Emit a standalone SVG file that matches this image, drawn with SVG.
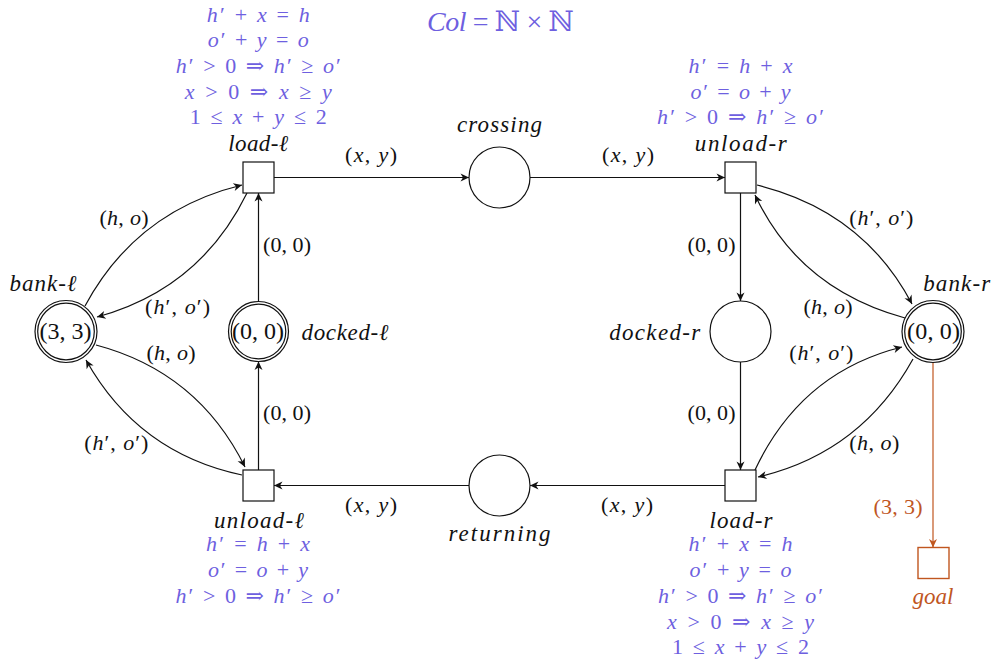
<svg xmlns="http://www.w3.org/2000/svg" width="994" height="662" viewBox="0 0 994 662">
<style>
text{font-family:"Liberation Serif","DejaVu Serif",serif;}
.v{font-style:italic}
.m{font-size:22px;fill:#111;text-anchor:middle}
.g{font-size:22px;fill:#6e5fe0;text-anchor:middle}
.n{font-size:23px;font-style:italic;fill:#111;text-anchor:middle}
.t{font-size:24px;fill:#111;text-anchor:middle}
.node{fill:#fff;stroke:#111;stroke-width:1.2}
.e{fill:none;stroke:#111;stroke-width:1.2;marker-end:url(#ah)}
.o{fill:none;stroke:#c0561f;stroke-width:1.2;marker-end:url(#ao)}
</style>
<defs>
<marker id="ah" viewBox="-9 -5 10 10" refX="0" refY="0" markerWidth="10" markerHeight="10" markerUnits="userSpaceOnUse" orient="auto"><path d="M0,0 L-8.5,-4 L-6,0 L-8.5,4 Z" fill="#111"/></marker>
<marker id="ao" viewBox="-9 -5 10 10" refX="0" refY="0" markerWidth="10" markerHeight="10" markerUnits="userSpaceOnUse" orient="auto"><path d="M0,0 L-8.5,-4 L-6,0 L-8.5,4 Z" fill="#c0561f"/></marker>
</defs>
<rect width="994" height="662" fill="#fff"/>

<text x="500.5" y="31" font-size="28" fill="#6e5fe0" text-anchor="middle" textLength="147"><tspan class="v">Col</tspan> = ℕ × ℕ</text>

<g id="connectors">
<path class="e" d="M274,177.5 H469"/>
<path class="e" d="M530,177.5 H725"/>
<path class="e" d="M740.5,193 V301"/>
<path class="e" d="M740.5,362 V470"/>
<path class="e" d="M725,485.5 H530"/>
<path class="e" d="M469,485.5 H274"/>
<path class="e" d="M258.5,470 V361.5"/>
<path class="e" d="M258.5,301.5 V193"/>
<path class="e" d="M85,306 Q136,211 242,185"/>
<path class="e" d="M247,193 Q200,289 97,317"/>
<path class="e" d="M96,345 Q198,372 245,467"/>
<path class="e" d="M242,475 Q138,453 86,360"/>
<path class="e" d="M757,185 Q863,211 912,304"/>
<path class="e" d="M905,318 Q799,289 755,195"/>
<path class="e" d="M755,470 Q801,372 902,347"/>
<path class="e" d="M913,359 Q861,453 758,477"/>
<path class="o" d="M933,362.5 V547.5"/>
<text class="m" x="371" y="162" textLength="52">(<tspan class="v">x</tspan>, <tspan class="v">y</tspan>)</text>
<text class="m" x="628" y="162" textLength="52">(<tspan class="v">x</tspan>, <tspan class="v">y</tspan>)</text>
<text class="m" x="371" y="512" textLength="52">(<tspan class="v">x</tspan>, <tspan class="v">y</tspan>)</text>
<text class="m" x="627" y="512" textLength="52">(<tspan class="v">x</tspan>, <tspan class="v">y</tspan>)</text>
<text class="m" x="287" y="252" textLength="48">(0, 0)</text>
<text class="m" x="287" y="420" textLength="48">(0, 0)</text>
<text class="m" x="711.5" y="252" textLength="48">(0, 0)</text>
<text class="m" x="711.5" y="420" textLength="48">(0, 0)</text>
<text class="m" x="124" y="225" textLength="49">(<tspan class="v">h</tspan>, <tspan class="v">o</tspan>)</text>
<text class="m" x="177.5" y="314" textLength="65">(<tspan class="v">h</tspan>′, <tspan class="v">o</tspan>′)</text>
<text class="m" x="171" y="360" textLength="49">(<tspan class="v">h</tspan>, <tspan class="v">o</tspan>)</text>
<text class="m" x="116.3" y="450" textLength="64">(<tspan class="v">h</tspan>′, <tspan class="v">o</tspan>′)</text>
<text class="m" x="881.3" y="225" textLength="64">(<tspan class="v">h</tspan>′, <tspan class="v">o</tspan>′)</text>
<text class="m" x="828" y="314" textLength="49">(<tspan class="v">h</tspan>, <tspan class="v">o</tspan>)</text>
<text class="m" x="821.3" y="360" textLength="64">(<tspan class="v">h</tspan>′, <tspan class="v">o</tspan>′)</text>
<text class="m" x="874.3" y="450" textLength="50">(<tspan class="v">h</tspan>, <tspan class="v">o</tspan>)</text>
<text class="m" x="898" y="514" textLength="49" style="fill:#c0561f">(3, 3)</text>
</g>

<g id="load-l">
<rect class="node" x="243" y="162" width="31" height="31"/>
<text class="n" x="258.3" y="151" textLength="60">load-ℓ</text>
<text class="g" x="258.3" y="22" textLength="103"><tspan class="v">h</tspan>′ + <tspan class="v">x</tspan> = <tspan class="v">h</tspan></text>
<text class="g" x="258.3" y="47" textLength="101"><tspan class="v">o</tspan>′ + <tspan class="v">y</tspan> = <tspan class="v">o</tspan></text>
<text class="g" x="258.3" y="73" textLength="165"><tspan class="v">h</tspan>′ &gt; 0 ⇒ <tspan class="v">h</tspan>′ ≥ <tspan class="v">o</tspan>′</text>
<text class="g" x="258.3" y="99" textLength="147"><tspan class="v">x</tspan> &gt; 0 ⇒ <tspan class="v">x</tspan> ≥ <tspan class="v">y</tspan></text>
<text class="g" x="258.3" y="124" textLength="137">1 ≤ <tspan class="v">x</tspan> + <tspan class="v">y</tspan> ≤ 2</text>
</g>

<g id="crossing">
<circle class="node" cx="499.5" cy="177.5" r="30.5"/>
<text class="n" x="499.5" y="132" textLength="85">crossing</text>
</g>

<g id="unload-r">
<rect class="node" x="725" y="162" width="31" height="31"/>
<text class="n" x="740.8" y="151" textLength="92">unload-r</text>
<text class="g" x="740.5" y="73" textLength="104"><tspan class="v">h</tspan>′ = <tspan class="v">h</tspan> + <tspan class="v">x</tspan></text>
<text class="g" x="740.5" y="99" textLength="100"><tspan class="v">o</tspan>′ = <tspan class="v">o</tspan> + <tspan class="v">y</tspan></text>
<text class="g" x="740.5" y="124" textLength="167"><tspan class="v">h</tspan>′ &gt; 0 ⇒ <tspan class="v">h</tspan>′ ≥ <tspan class="v">o</tspan>′</text>
</g>

<g id="bank-l">
<circle class="node" cx="66" cy="331.5" r="31"/>
<circle class="node" cx="66" cy="331.5" r="28.3"/>
<text class="t" x="65.5" y="339" textLength="52">(3, 3)</text>
<text class="n" x="43" y="290.5" textLength="67">bank-ℓ</text>
</g>

<g id="docked-l">
<circle class="node" cx="258.5" cy="331.5" r="30"/>
<circle class="node" cx="258.5" cy="331.5" r="27.3"/>
<text class="t" x="258" y="339" textLength="52">(0, 0)</text>
<text class="n" x="345" y="340" textLength="87">docked-ℓ</text>
</g>

<g id="docked-r">
<circle class="node" cx="740.5" cy="331.5" r="30.5"/>
<text class="n" x="654.7" y="340" textLength="91">docked-r</text>
</g>

<g id="bank-r">
<circle class="node" cx="933" cy="331.5" r="31"/>
<circle class="node" cx="933" cy="331.5" r="28.3"/>
<text class="t" x="933.5" y="339" textLength="53">(0, 0)</text>
<text class="n" x="956.7" y="290.5" textLength="67">bank-r</text>
</g>

<g id="unload-l">
<rect class="node" x="243" y="470" width="31" height="31"/>
<text class="n" x="259" y="527.5" textLength="90">unload-ℓ</text>
<text class="g" x="258" y="551" textLength="104"><tspan class="v">h</tspan>′ = <tspan class="v">h</tspan> + <tspan class="v">x</tspan></text>
<text class="g" x="258" y="577" textLength="100"><tspan class="v">o</tspan>′ = <tspan class="v">o</tspan> + <tspan class="v">y</tspan></text>
<text class="g" x="258" y="603" textLength="165"><tspan class="v">h</tspan>′ &gt; 0 ⇒ <tspan class="v">h</tspan>′ ≥ <tspan class="v">o</tspan>′</text>
</g>

<g id="returning">
<circle class="node" cx="499.5" cy="485.5" r="30.5"/>
<text class="n" x="499.5" y="541" textLength="102">returning</text>
</g>

<g id="load-r">
<rect class="node" x="725" y="470" width="31" height="31"/>
<text class="n" x="741" y="527.5" textLength="63">load-r</text>
<text class="g" x="740.5" y="551" textLength="104"><tspan class="v">h</tspan>′ + <tspan class="v">x</tspan> = <tspan class="v">h</tspan></text>
<text class="g" x="740.5" y="577" textLength="102"><tspan class="v">o</tspan>′ + <tspan class="v">y</tspan> = <tspan class="v">o</tspan></text>
<text class="g" x="740.5" y="603" textLength="165"><tspan class="v">h</tspan>′ &gt; 0 ⇒ <tspan class="v">h</tspan>′ ≥ <tspan class="v">o</tspan>′</text>
<text class="g" x="740.5" y="629" textLength="147"><tspan class="v">x</tspan> &gt; 0 ⇒ <tspan class="v">x</tspan> ≥ <tspan class="v">y</tspan></text>
<text class="g" x="740.5" y="654" textLength="137">1 ≤ <tspan class="v">x</tspan> + <tspan class="v">y</tspan> ≤ 2</text>
</g>

<g id="goal">
<rect x="918" y="547.5" width="31" height="31" fill="#fff" stroke="#c0561f" stroke-width="1.4"/>
<text class="n" x="933" y="604" textLength="41" style="fill:#c0561f">goal</text>
</g>
</svg>
